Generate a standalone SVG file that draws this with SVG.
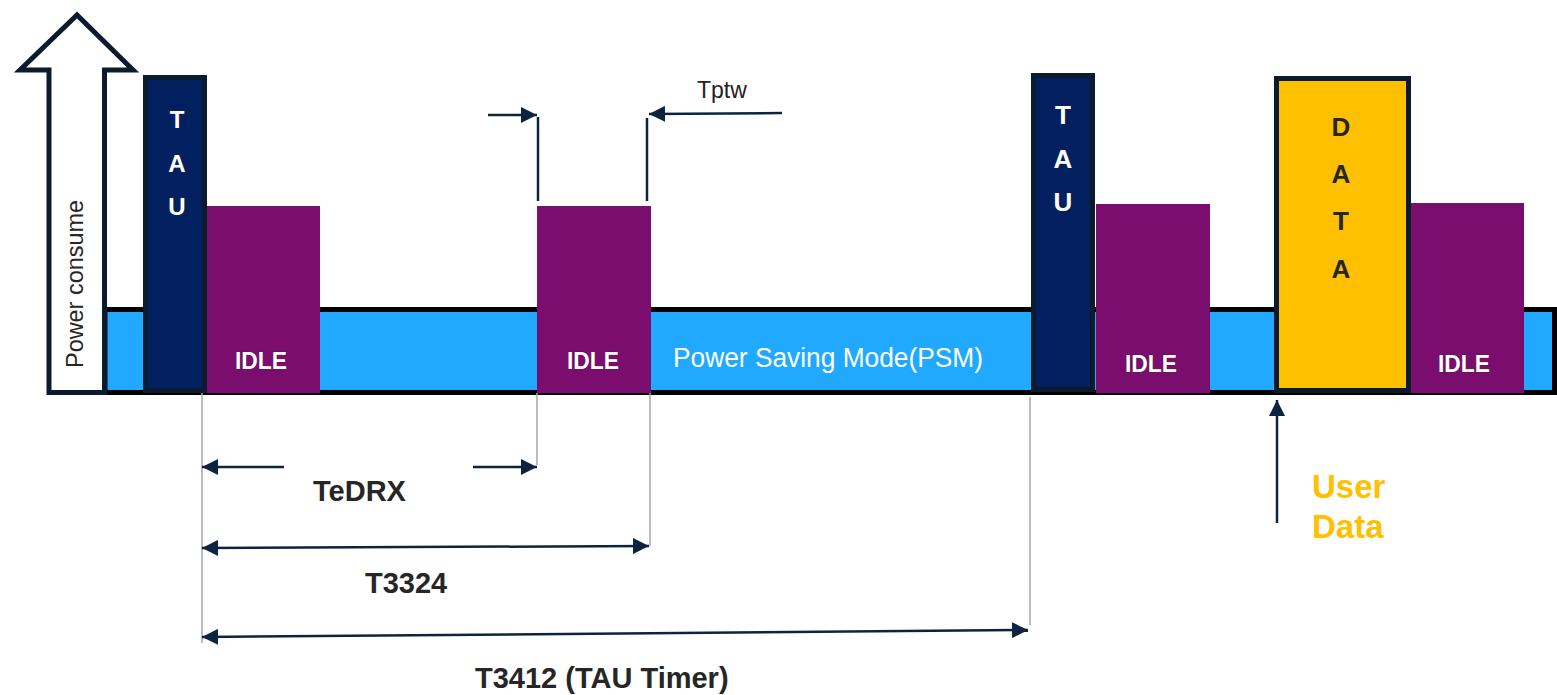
<svg xmlns="http://www.w3.org/2000/svg" width="1557" height="695" viewBox="0 0 1557 695">
<style>
.bar{fill:#20A9FF;stroke:#000;stroke-width:5}
.tau{fill:#022060;stroke:#0A1B2E;stroke-width:5}
.idle{fill:#7B0D6E}
.data{fill:#FFC000;stroke:#0A1B2E;stroke-width:5}
.guide{stroke:#A6A6A6;stroke-width:1.5;fill:none}
.conn{stroke:#0B2540;stroke-width:2.5;fill:none}
.wl{font-family:"Liberation Sans",Arial,sans-serif;font-weight:bold;fill:#fff;stroke:#2a2a2a;stroke-width:0.6;paint-order:stroke;text-anchor:middle}
.dl{font-family:"Liberation Sans",Arial,sans-serif;font-weight:bold;fill:#262626;text-anchor:middle;font-size:26px}
.lbl{font-family:"Liberation Sans",Arial,sans-serif;font-weight:bold;fill:#262626;font-size:29px}
.reg{font-family:"Liberation Sans",Arial,sans-serif}
</style>
<defs>
<marker id="ah" viewBox="0 0 16 16" refX="16" refY="8" markerWidth="16" markerHeight="16" markerUnits="userSpaceOnUse" orient="auto-start-reverse"><path d="M0,0 L16,8 L0,16 Z" fill="#0B2540"/></marker>
</defs>
<g id="psm-bar">
<rect class="bar" x="105" y="309.5" width="1449.5" height="83"/>
<text class="reg" x="673" y="367" font-size="27" fill="#fff" textLength="310" lengthAdjust="spacingAndGlyphs">Power Saving Mode(PSM)</text>
</g>
<g id="power-axis">
<path d="M49,392.5 L49,70 L20,70 L77,15 L133,70 L104.5,70 L104.5,392.5 Z" fill="#fff" stroke="#0A1B2E" stroke-width="5"/>
<text class="reg" transform="translate(83,284) rotate(-90)" text-anchor="middle" font-size="24" fill="#262626" textLength="168" lengthAdjust="spacingAndGlyphs">Power consume</text>
</g>
<g id="tau1">
<rect class="tau" x="145.5" y="77.5" width="59" height="313"/>
<text class="wl" font-size="24" x="177" y="128">T</text>
<text class="wl" font-size="24" x="177" y="172">A</text>
<text class="wl" font-size="24" x="177" y="215">U</text>
</g>
<g id="idle1">
<rect class="idle" x="207" y="206" width="113" height="187"/>
<text class="wl" font-size="24" x="261" y="369" textLength="52" lengthAdjust="spacingAndGlyphs">IDLE</text>
</g>
<g id="idle2">
<rect class="idle" x="537" y="206" width="114" height="187"/>
<text class="wl" font-size="24" x="593" y="369" textLength="52" lengthAdjust="spacingAndGlyphs">IDLE</text>
</g>
<g id="tau2">
<rect class="tau" x="1033.5" y="75.5" width="59" height="314"/>
<text class="wl" font-size="26" x="1063" y="124">T</text>
<text class="wl" font-size="26" x="1063" y="168">A</text>
<text class="wl" font-size="26" x="1063" y="211">U</text>
</g>
<g id="idle3">
<rect class="idle" x="1096" y="204" width="114" height="189"/>
<text class="wl" font-size="24" x="1151" y="372" textLength="52" lengthAdjust="spacingAndGlyphs">IDLE</text>
</g>
<g id="idle4">
<rect class="idle" x="1410" y="203" width="114" height="190"/>
<text class="wl" font-size="24" x="1464" y="372" textLength="52" lengthAdjust="spacingAndGlyphs">IDLE</text>
</g>
<g id="data">
<rect class="data" x="1276.5" y="78.5" width="132" height="312"/>
<text class="dl" x="1341" y="136">D</text>
<text class="dl" x="1341" y="183">A</text>
<text class="dl" x="1341" y="230">T</text>
<text class="dl" x="1341" y="278">A</text>
</g>
<g id="connectors">
<line class="guide" x1="202" y1="393" x2="202" y2="643"/>
<line class="guide" x1="537" y1="393" x2="537" y2="465"/>
<line class="guide" x1="650" y1="393" x2="650" y2="546"/>
<line class="guide" x1="1030" y1="397" x2="1030" y2="625"/>
<line class="conn" x1="538" y1="117" x2="538" y2="201"/>
<line class="conn" x1="647" y1="118" x2="647" y2="201"/>
<line class="conn" x1="488" y1="115" x2="537" y2="115" marker-end="url(#ah)"/>
<line class="conn" x1="782" y1="113" x2="649" y2="114" marker-end="url(#ah)"/>
<line class="conn" x1="284" y1="467" x2="202" y2="467" marker-end="url(#ah)"/>
<line class="conn" x1="473" y1="467" x2="537" y2="467" marker-end="url(#ah)"/>
<line class="conn" x1="202" y1="548" x2="649" y2="546" marker-start="url(#ah)" marker-end="url(#ah)"/>
<line class="conn" x1="202" y1="637" x2="1028" y2="630" marker-start="url(#ah)" marker-end="url(#ah)"/>
<line class="conn" x1="1277" y1="523" x2="1277" y2="400" marker-end="url(#ah)"/>
</g>
<g id="labels">
<text class="reg" x="697" y="98" font-size="23" fill="#222">Tptw</text>
<text class="lbl" x="313" y="501">TeDRX</text>
<text class="lbl" x="365" y="593">T3324</text>
<text class="lbl" x="475" y="688">T3412 (TAU Timer)</text>
<text class="reg" x="1312" y="498" font-size="33" font-weight="bold" fill="#FFC000">User</text>
<text class="reg" x="1312" y="538" font-size="33" font-weight="bold" fill="#FFC000">Data</text>
</g>
</svg>
